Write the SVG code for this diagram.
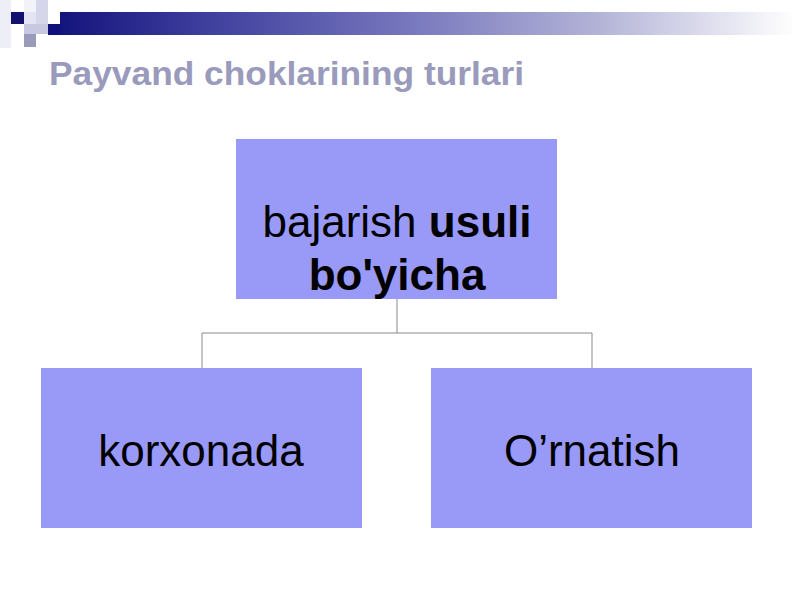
<svg xmlns="http://www.w3.org/2000/svg" width="800" height="600" viewBox="0 0 800 600">
  <defs>
    <linearGradient id="bar" gradientUnits="userSpaceOnUse" x1="48" y1="0" x2="795" y2="0">
      <stop offset="0" stop-color="#10107a"/>
      <stop offset="0.2" stop-color="#3c3c9c"/>
      <stop offset="0.47" stop-color="#7474bc"/>
      <stop offset="0.74" stop-color="#b4b4d8"/>
      <stop offset="1" stop-color="#ffffff"/>
    </linearGradient>
    <style>
      .box { fill: #9999f8; }
      .lbl { font-family: "Liberation Sans", Arial, sans-serif; font-size: 44px; fill: #000000; text-anchor: middle; }
      .conn { stroke: #8a8a8a; stroke-width: 1; fill: none; }
    </style>
  </defs>
  <rect x="0" y="0" width="800" height="600" fill="#ffffff"/>
  <g id="decoration">
    <rect x="0" y="0" width="11" height="48" fill="#eeeef7"/>
    <rect x="24" y="0" width="12" height="12" fill="#f2f2f9"/>
    <rect x="36" y="0" width="12" height="24" fill="#d6d6ea"/>
    <rect x="24" y="12" width="12" height="12" fill="#e4e4f2"/>
    <rect x="24" y="24" width="24" height="10" fill="#c8c8e0"/>
    <rect x="24" y="34" width="12" height="13" fill="#9a9abd"/>
    <rect x="11" y="12" width="13" height="12" fill="#12126e"/>
    <rect x="48" y="24" width="12" height="11" fill="#10107a"/>
    <rect x="60" y="12" width="740" height="23" fill="url(#bar)"/>
  </g>
  <text id="title" x="49" y="85" font-family="'Liberation Sans', Arial, sans-serif" font-size="33" font-weight="bold" fill="#9a9abc" textLength="475" lengthAdjust="spacingAndGlyphs">Payvand choklarining turlari</text>
  <g id="connectors">
    <path class="conn" d="M397 299 V333 M202 333 H592 M202 333 V368 M592 333 V368"/>
  </g>
  <g id="node-top">
    <rect class="box" x="236" y="139" width="321" height="160"/>
    <text class="lbl" x="397" y="237">bajarish <tspan font-weight="bold">usuli</tspan></text>
    <text class="lbl" x="397" y="290" font-weight="bold">bo'yicha</text>
  </g>
  <g id="node-left">
    <rect class="box" x="41" y="368" width="321" height="160"/>
    <text class="lbl" x="201" y="466">korxonada</text>
  </g>
  <g id="node-right">
    <rect class="box" x="431" y="368" width="321" height="160"/>
    <text class="lbl" x="592" y="466">O’rnatish</text>
  </g>
</svg>
